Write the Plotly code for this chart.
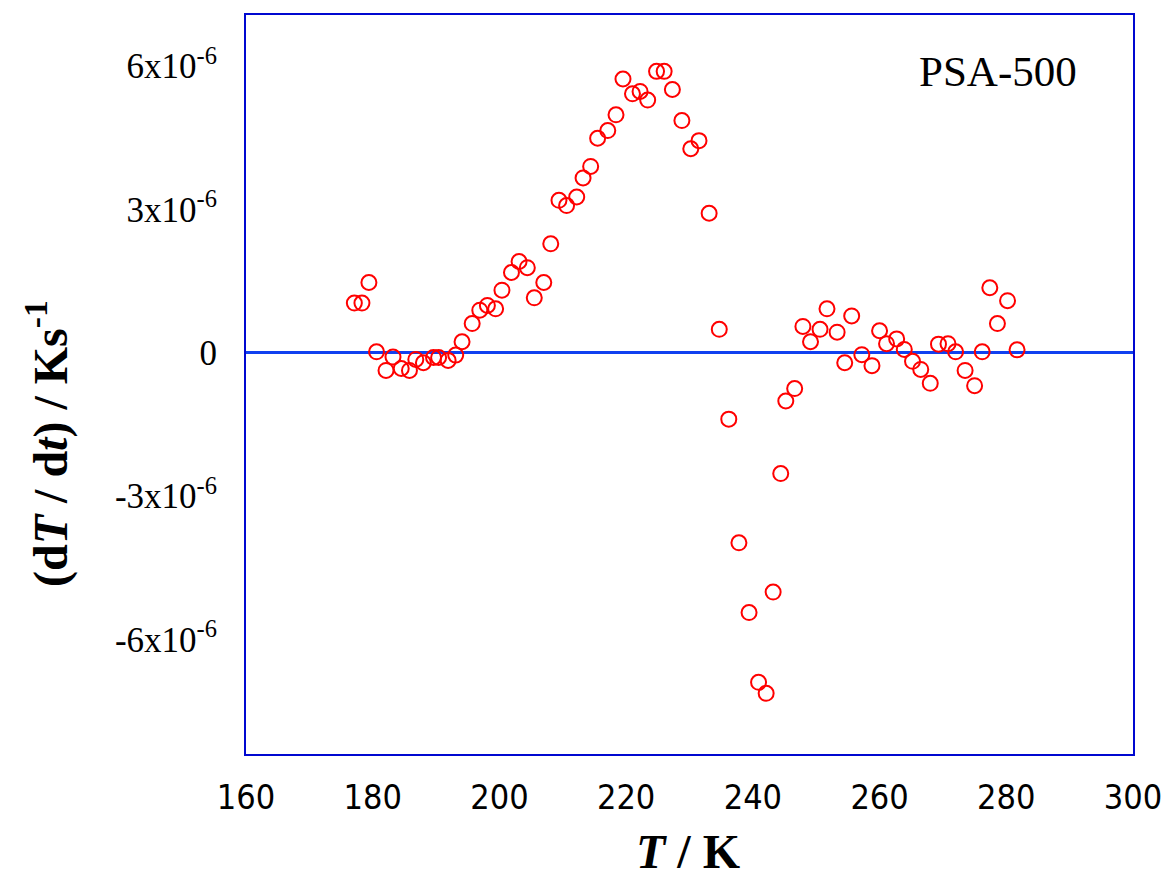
import plotly.graph_objects as go

# Temperature (K)
T = [177.1, 178.3, 179.4, 180.6, 182.1, 183.2, 184.5, 185.8, 186.8, 188.0,
     189.6, 190.4, 191.9, 193.1, 194.1, 195.7, 196.9, 198.1, 199.4, 200.4,
     201.9, 203.1, 204.4, 205.5, 207.0, 208.1, 209.4, 210.6, 212.2, 213.2,
     214.4, 215.5, 217.1, 218.4, 219.5, 221.0, 222.2, 223.4, 224.8, 226.0,
     227.3, 228.8, 230.2, 231.5, 233.1, 234.7, 236.2, 237.8, 239.4, 240.9,
     242.1, 243.2, 244.4, 245.2, 246.6, 247.9, 249.1, 250.6, 251.7, 253.3,
     254.5, 255.6, 257.2, 258.8, 260.0, 261.1, 262.7, 263.9, 265.2, 266.5,
     268.0, 269.3, 270.8, 272.0, 273.5, 275.0, 276.2, 277.4, 278.6, 280.2,
     281.7]

# dT/dt in units of 1e-6 K/s
dTdt_e6 = [1.04, 1.04, 1.47, 0.02, -0.37, -0.09, -0.33, -0.37, -0.14, -0.21,
           -0.10, -0.10, -0.16, -0.05, 0.23, 0.61, 0.89, 0.99, 0.92, 1.31,
           1.68, 1.91, 1.78, 1.15, 1.47, 2.28, 3.19, 3.08, 3.26, 3.66,
           3.90, 4.49, 4.65, 4.98, 5.73, 5.42, 5.47, 5.29, 5.89, 5.89,
           5.51, 4.86, 4.27, 4.44, 2.92, 0.49, -1.39, -3.98, -5.44, -6.90,
           -7.13, -5.01, -2.53, -1.01, -0.75, 0.55, 0.23, 0.49, 0.92, 0.43,
           -0.21, 0.77, -0.04, -0.27, 0.46, 0.19, 0.29, 0.07, -0.18, -0.35,
           -0.64, 0.18, 0.19, 0.02, -0.37, -0.69, 0.02, 1.36, 0.61, 1.09,
           0.06]

y_tick_vals = [-6e-6, -3e-6, 0, 3e-6, 6e-6]
y_tick_text = ["-6x10<sup>-6</sup>", "-3x10<sup>-6</sup>", "0",
               "3x10<sup>-6</sup>", "6x10<sup>-6</sup>"]
x_tick_vals = [160, 180, 200, 220, 240, 260, 280, 300]

dTdt = [v * 1e-6 for v in dTdt_e6]

serif = "Liberation Serif, Times New Roman, serif"
narrow = "Liberation Sans Narrow, DejaVu Sans Condensed, Arial Narrow, sans-serif"
frame_blue = "#0008d0"
zero_blue = "#1040f0"

fig = go.Figure()
fig.add_trace(go.Scatter(
    x=T, y=dTdt, mode="markers",
    marker=dict(symbol="circle-open", size=15, color="#ff0000",
                line=dict(width=2, color="#ff0000")),
    showlegend=False, cliponaxis=False,
))

fig.update_layout(
    width=1174, height=877,
    margin=dict(l=246, r=30, t=15, b=123),
    paper_bgcolor="white", plot_bgcolor="white",
    xaxis=dict(range=[160, 300], tickvals=x_tick_vals, ticks="",
               showgrid=False, zeroline=False,
               showline=True, mirror=True, linecolor=frame_blue, linewidth=2,
               tickfont=dict(family=narrow, size=34, color="black"),
               ticklabelstandoff=12, ticklabeloverflow="allow"),
    yaxis=dict(range=[-8.4e-6, 7.07e-6], tickvals=y_tick_vals,
               ticktext=y_tick_text, ticks="", showgrid=False,
               zeroline=True, zerolinecolor=zero_blue, zerolinewidth=3,
               showline=True, mirror=True, linecolor=frame_blue, linewidth=2,
               tickfont=dict(family=serif, size=35, color="black"),
               ticklabelstandoff=20),
    annotations=[
        dict(text="PSA-500", x=0.848, y=0.923, xref="paper", yref="paper",
             showarrow=False, font=dict(family=serif, size=43, color="black"),
             xanchor="center", yanchor="middle"),
        dict(text="<b><i>T</i> / K</b>", x=0.498, y=-0.132, xref="paper",
             yref="paper", showarrow=False,
             font=dict(family=serif, size=48, color="black"),
             xanchor="center", yanchor="middle"),
        dict(text="<b>(d<i>T</i> / d<i>t</i>) / Ks<sup>-1</sup></b>",
             x=-0.224, y=0.42, xref="paper", yref="paper", textangle=-90,
             showarrow=False, font=dict(family=serif, size=48, color="black"),
             xanchor="center", yanchor="middle"),
    ],
)

fig.write_html("out.html")
